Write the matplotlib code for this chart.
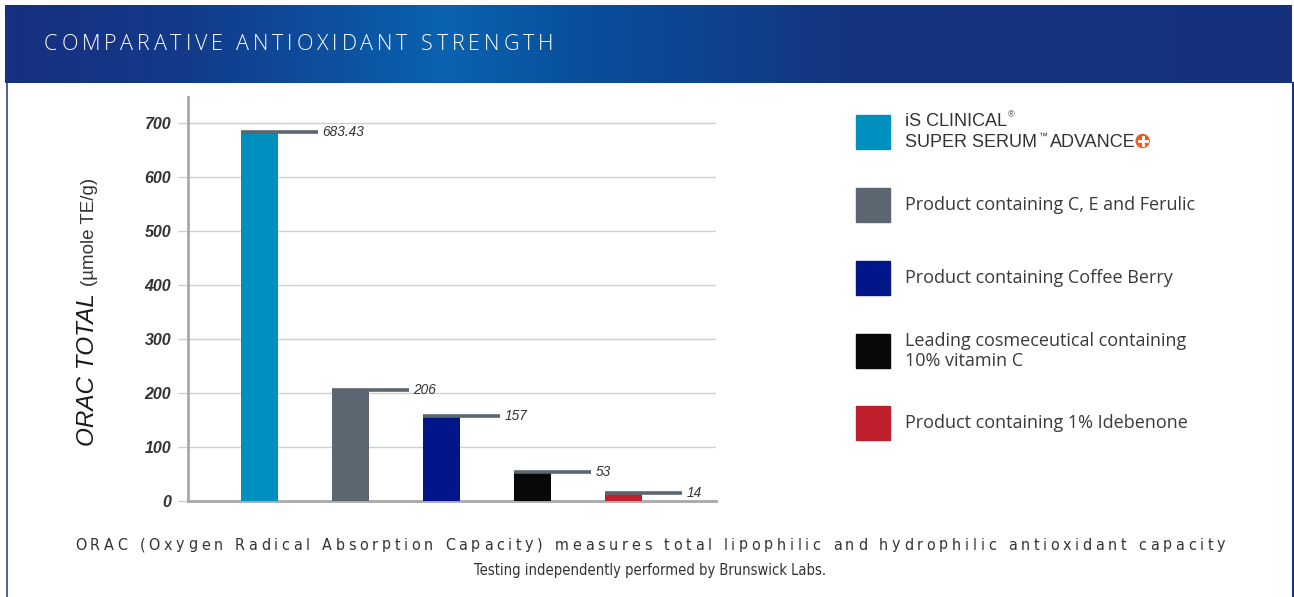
import matplotlib
matplotlib.use("Agg")
import matplotlib.pyplot as plt
import numpy as np
from matplotlib.colors import LinearSegmentedColormap
from matplotlib.patches import Rectangle, Ellipse
from matplotlib.lines import Line2D

W, H = 1294, 597

# data
products = ["iS CLINICAL SUPER SERUM ADVANCE+",
            "Product containing C, E and Ferulic",
            "Product containing Coffee Berry",
            "Leading cosmeceutical containing\n10% vitamin C",
            "Product containing 1% Idebenone"]
values = [683.43, 206, 157, 53, 14]
value_labels = ["683.43", "206", "157", "53", "14"]
bar_colors = ["#0090c0", "#5b6670", "#001689", "#080808", "#c01f2e"]
yticks = [0, 100, 200, 300, 400, 500, 600, 700]

title = "COMPARATIVE ANTIOXIDANT STRENGTH"
footer1 = "ORAC (Oxygen Radical Absorption Capacity) measures total lipophilic and hydrophilic antioxidant capacity"
footer2 = "Testing independently performed by Brunswick Labs."

plt.rcParams['font.family'] = ['Liberation Sans', 'DejaVu Sans']

fig = plt.figure(figsize=(W / 100, H / 100), dpi=100)
fig.patch.set_facecolor("white")
renderer = fig.canvas.get_renderer()


def fx(px):
    return px / W


def fy(py):
    return 1 - py / H


def char_width(ch, **kw):
    t1 = fig.text(0, 0, "|" + ch + "|", **kw)
    t2 = fig.text(0, 0, "||", **kw)
    w = t1.get_window_extent(renderer).width - t2.get_window_extent(renderer).width
    t1.remove()
    t2.remove()
    return w


# spread characters of s evenly between x0 and x1 (pixels)
def spread_text(s, x0, x1, y, **kw):
    widths = [char_width(c, **kw) for c in s]
    track = (x1 - x0 - sum(widths)) / (len(s) - 1)
    x = x0
    for c, w in zip(s, widths):
        fig.text(fx(x), fy(y), c, ha="left", va="center", **kw)
        x += w + track


# header band with gradient
hax = fig.add_axes([fx(5), fy(83), fx(1292 - 5), (83 - 5) / H])
cmap = LinearSegmentedColormap.from_list(
    "hdr", [(0, "#17307f"), (0.14, "#133a8a"), (0.30, "#0a5aa8"),
            (0.34, "#0b62b0"), (0.45, "#084f9c"), (0.65, "#15357f"), (1, "#15317e")])
hax.imshow(np.linspace(0, 1, 400).reshape(1, -1), aspect="auto", cmap=cmap,
           extent=[0, 1, 0, 1])
hax.set_axis_off()
spread_text(title, 44, 553, 45, color="white", fontsize=15.5,
            family=["Open Sans", "DejaVu Sans"], fontweight="light")

# frame lines below the header
fig.add_artist(Line2D([fx(6.5), fx(6.5)], [fy(83), 0], color="#2a4590", lw=1.2))
fig.add_artist(Line2D([fx(1292.5), fx(1292.5)], [fy(83), 0], color="#1c3384", lw=1.5))

# main bar chart
ax = fig.add_axes([fx(188), fy(501), fx(716 - 188), (501 - 97) / H])
x = np.arange(len(values))
bw = 0.41
ax.bar(x, values, width=bw, color=bar_colors, zorder=3)
seg = 0.846
ax.hlines(values, x - bw / 2, x - bw / 2 + seg, color="#5a6670", lw=2.6, zorder=4)
for xi, v, lab in zip(x, values, value_labels):
    ax.text(xi - bw / 2 + seg + 0.05, v, lab, ha="left", va="center",
            fontsize=9.8, style="italic", color="#333333", zorder=5)

ax.set_xlim(-0.786, 5.016)
ax.set_ylim(0, 748)
ax.set_yticks(yticks)
ax.set_yticklabels([str(t) for t in yticks], style="italic", fontsize=11.5,
                   fontweight="bold", color="#333333")
ax.set_xticks([])
ax.yaxis.grid(True, color="#cfcfcf", lw=1, zorder=0)
ax.tick_params(axis="y", length=7, color="#cfcfcf", width=1, pad=5)
for side in ["top", "right"]:
    ax.spines[side].set_visible(False)
ax.spines["left"].set_color("#a8a8a8")
ax.spines["left"].set_linewidth(2)
ax.spines["bottom"].set_color("#a8a8a8")
ax.spines["bottom"].set_linewidth(2)
ax.set_facecolor("none")

# y label
fig.text(fx(88), fy(370), "ORAC TOTAL", rotation=90, ha="center", va="center",
         fontsize=17.5, style="italic", color="#1a1a1a")
fig.text(fx(89), fy(232), "(µmole TE/g)", rotation=90, ha="center", va="center",
         fontsize=13.5, color="#333333")

# legend
leg_font = dict(fontsize=13, color="#3a3a3a", family=["Open Sans", "DejaVu Sans"])
row_y = [132, 205, 278, 351, 423]
for i, (c, yc) in enumerate(zip(bar_colors, row_y)):
    fig.add_artist(Rectangle((fx(856), fy(yc + 17)), fx(34), 34 / H, color=c))
    if i == 0:
        continue
    fig.text(fx(905), fy(yc), products[i], ha="left", va="center",
             linespacing=1.15, **leg_font)

# first legend entry with trademark marks
brand_kw = dict(fontsize=13, color="#333333")
t = fig.text(fx(905), fy(121), "iS CLINICAL", ha="left", va="center", **brand_kw)
bb = t.get_window_extent(renderer)
fig.text(bb.x1 / W + fx(1), fy(115), "®", ha="left", va="center", fontsize=6.5,
         color="#333333")
t = fig.text(fx(905), fy(142), "SUPER SERUM", ha="left", va="center", **brand_kw)
bb = t.get_window_extent(renderer)
tm = fig.text(bb.x1 / W + fx(1), fy(136), "™", ha="left", va="center", fontsize=6.5,
              color="#333333")
bb = tm.get_window_extent(renderer)
t = fig.text(bb.x1 / W + fx(3), fy(142), "ADVANCE", ha="left", va="center", **brand_kw)
bb = t.get_window_extent(renderer)
cx = bb.x1 + 7
cy = fy(141)
fig.add_artist(Ellipse((cx / W, cy), 13 / W, 13 / H, color="#ef5a24"))
fig.add_artist(Line2D([(cx - 4) / W, (cx + 4) / W], [cy, cy], color="white", lw=2))
fig.add_artist(Line2D([cx / W, cx / W], [cy - 4 / H, cy + 4 / H], color="white", lw=2))

# footer
foot_kw = dict(color="#333333", family=["DejaVu Sans"], fontstretch="condensed")
spread_text(footer1, 75, 1225, 545, fontsize=11.5, **foot_kw)
fig.text(0.5 * (466 + 833) / W, fy(571), footer2, ha="center", va="center",
         fontsize=10.5, **foot_kw)

fig.savefig("out.png", dpi=100)
